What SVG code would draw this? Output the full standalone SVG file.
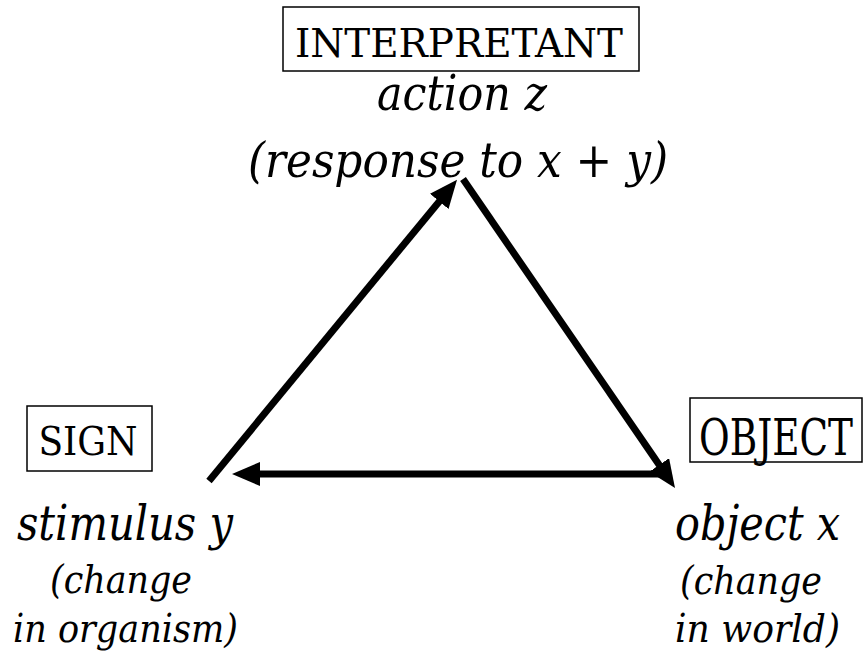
<svg xmlns="http://www.w3.org/2000/svg" width="865" height="657" viewBox="0 0 865 657">
<style>
text{font-family:"DejaVu Serif Condensed","DejaVu Serif","Liberation Serif",serif;fill:#000;text-anchor:middle}
.box{fill:#fff;stroke:#000;stroke-width:1.5}
.lbl{font-size:40px}
.it{font-style:italic}
.big{font-size:49px}
.small{font-size:40px}
.edge{stroke:#000;stroke-width:7;fill:none;stroke-linecap:butt}
</style>
<defs>
<marker id="ah" viewBox="0 0 28 24" markerUnits="userSpaceOnUse" markerWidth="28" markerHeight="24" refX="2" refY="12" orient="auto">
<path d="M0,0 L28,12 L0,24 z" fill="#000"/>
</marker>
</defs>
<rect width="865" height="657" fill="#fff"/>
<g id="connectors">
<line class="edge" x1="209" y1="481" x2="440.5" y2="199.9" marker-end="url(#ah)"/>
<line class="edge" x1="463" y1="179" x2="660.3" y2="466.6" marker-end="url(#ah)"/>
<line class="edge" x1="665" y1="474" x2="258" y2="474" marker-end="url(#ah)"/>
</g>
<g id="interpretant">
<rect class="box" x="283" y="7" width="356" height="64"/>
<text class="lbl" x="459" y="57" textLength="328" lengthAdjust="spacingAndGlyphs">INTERPRETANT</text>
<text class="it big" x="462" y="110" textLength="170" lengthAdjust="spacingAndGlyphs">action z</text>
<text class="it big" x="458" y="177" textLength="420" lengthAdjust="spacingAndGlyphs">(response to x + y)</text>
</g>
<g id="sign">
<rect class="box" x="27" y="406" width="125" height="65"/>
<text class="lbl" x="88" y="455" textLength="99" lengthAdjust="spacingAndGlyphs">SIGN</text>
<text class="it big" x="125" y="540" textLength="216" lengthAdjust="spacingAndGlyphs">stimulus y</text>
<text class="it small" x="121" y="593" textLength="142" lengthAdjust="spacingAndGlyphs">(change</text>
<text class="it small" x="125.5" y="642" textLength="225" lengthAdjust="spacingAndGlyphs">in organism)</text>
</g>
<g id="object">
<rect class="box" x="690" y="398" width="172" height="64"/>
<text x="776" y="455" style="font-size:50px" textLength="154" lengthAdjust="spacingAndGlyphs">OBJECT</text>
<text class="it big" x="757.5" y="540" textLength="165" lengthAdjust="spacingAndGlyphs">object x</text>
<text class="it small" x="751" y="594" textLength="142" lengthAdjust="spacingAndGlyphs">(change</text>
<text class="it small" x="757.5" y="642" textLength="165" lengthAdjust="spacingAndGlyphs">in world)</text>
</g>
</svg>
